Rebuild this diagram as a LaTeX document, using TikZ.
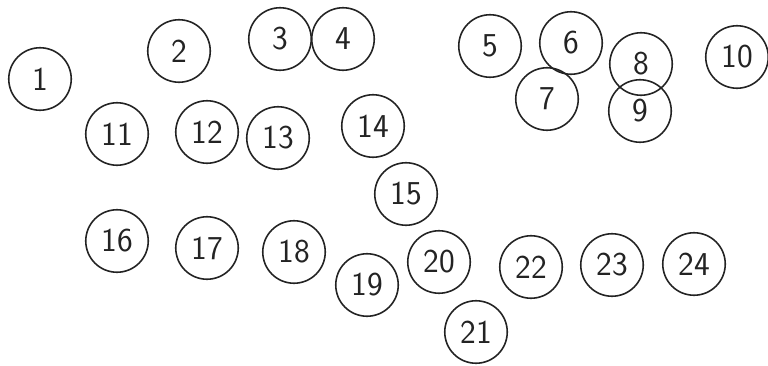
\documentclass[tikz,border=0pt]{standalone}
\usepackage{tikz}
\usetikzlibrary{positioning}
\definecolor{InkDark}{RGB}{35,35,35}

\begin{document}
\begin{tikzpicture}[
        ball/.style={circle,draw=InkDark,line width=0.9pt,minimum size=1.25cm,
                     inner sep=0pt,text=InkDark,
                     font=\sffamily\fontsize{19}{21}\selectfont}
      ]
        \useasboundingbox (0,0) rectangle (15.36,7.30);
        % top row
        \node[ball] (n1) at (0.80,5.72) {1};
        \node[ball] (n2) at (3.58,6.28) {2};
        \node[ball] (n3) at (5.60,6.52) {3};
        \node[ball] (n4) at (6.86,6.52) {4};
        \node[ball] (n5) at (9.80,6.38) {5};
        \node[ball] (n6) at (11.42,6.44) {6};
        \node[ball] (n7) at (10.94,5.32) {7};
        \node[ball] (n8) at (12.82,6.02) {8};
        \node[ball] (n9) at (12.80,5.08) {9};
        \node[ball] (n10) at (14.74,6.16) {10};
        % middle row
        \node[ball] (n11) at (2.34,4.62) {11};
        \node[ball] (n12) at (4.14,4.66) {12};
        \node[ball] (n13) at (5.56,4.54) {13};
        \node[ball] (n14) at (7.46,4.78) {14};
        \node[ball] (n15) at (8.12,3.42) {15};
        % bottom row
        \node[ball] (n16) at (2.34,2.48) {16};
        \node[ball] (n17) at (4.14,2.34) {17};
        \node[ball] (n18) at (5.88,2.26) {18};
        \node[ball] (n19) at (7.34,1.60) {19};
        \node[ball] (n20) at (8.78,2.06) {20};
        \node[ball] (n21) at (9.52,0.66) {21};
        \node[ball] (n22) at (10.62,1.96) {22};
        \node[ball] (n23) at (12.24,2.00) {23};
        \node[ball] (n24) at (13.88,2.02) {24};
      \end{tikzpicture}
\end{document}
